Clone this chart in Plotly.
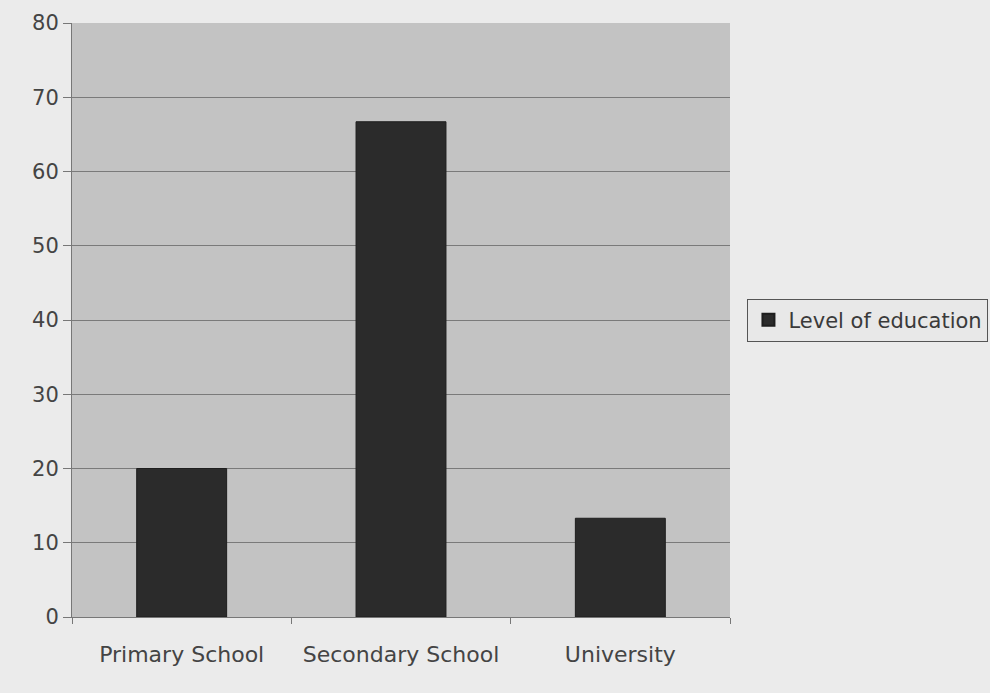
import plotly.graph_objects as go

categories = ["Primary School", "Secondary School", "University"]
values = [20, 66.7, 13.3]
series_name = "Level of education"
y_ticks = [0, 10, 20, 30, 40, 50, 60, 70, 80]

fig = go.Figure()
fig.add_trace(go.Bar(
    x=categories, y=values, name=series_name,
    marker=dict(color="#2b2b2b", line=dict(color="#1e1e1e", width=1)),
    showlegend=True,
))

fig.update_layout(
    width=990, height=693,
    margin=dict(l=72, r=260, t=23, b=76),
    paper_bgcolor="#ebebeb",
    plot_bgcolor="#c3c3c3",
    bargap=0.59,
    font=dict(family="DejaVu Sans, sans-serif", color="#444444", size=19),
    showlegend=True,
    legend=dict(
        xref="container", yref="container",
        x=0.755, y=0.538, xanchor="left", yanchor="middle",
        bgcolor="#e8e8e8", bordercolor="#555555", borderwidth=1,
        font=dict(size=21, color="#3a3a3a"),
        itemsizing="constant", itemwidth=30,
    ),
)
fig.update_xaxes(
    showgrid=False, showline=True, linecolor="#777777", linewidth=1,
    ticks="outside", ticklen=6, tickcolor="#777777", tickson="boundaries",
    tickfont=dict(size=22, color="#444444"), ticklabelstandoff=18,
)
fig.update_yaxes(
    range=[0, 80], tickvals=y_ticks, showgrid=True, gridcolor="#7a7a7a", gridwidth=1,
    showline=True, linecolor="#777777", linewidth=1,
    ticks="outside", ticklen=8, tickcolor="#777777",
    tickfont=dict(size=21, color="#444444"), zeroline=False,
)

fig.write_html("out.html")
